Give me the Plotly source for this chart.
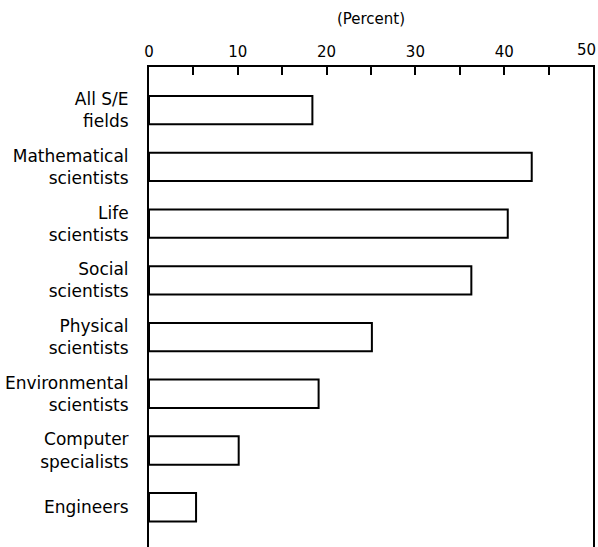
import plotly.graph_objects as go

categories = [
    "All S/E<br>fields",
    "Mathematical<br>scientists",
    "Life<br>scientists",
    "Social<br>scientists",
    "Physical<br>scientists",
    "Environmental<br>scientists",
    "Computer<br>specialists",
    "Engineers",
]
values = [18.4, 43.1, 40.4, 36.3, 25.1, 19.1, 10.1, 5.3]
tick_vals = [0, 5, 10, 15, 20, 25, 30, 35, 40, 45, 50]
tick_text = ["0", "", "10", "", "20", "", "30", "", "40", "", ""]
last_tick_value = 50
last_tick_label = "50"

fig = go.Figure(go.Bar(
    x=values,
    y=list(range(len(categories))),
    orientation="h",
    width=0.5,
    marker=dict(color="white", line=dict(color="black", width=2)),
))

fig.update_layout(
    width=598, height=547,
    margin=dict(l=149, r=5, t=67, b=0),
    paper_bgcolor="white", plot_bgcolor="white",
    showlegend=False,
    font=dict(family="DejaVu Sans", color="black", size=16),
    xaxis=dict(
        side="top", range=[0, 50], tickvals=tick_vals, ticktext=tick_text,
        ticks="inside", ticklen=8, tickwidth=2, tickcolor="black",
        showline=True, linecolor="black", linewidth=2, mirror=False,
        showgrid=False, zeroline=False, automargin=False,
        tickfont=dict(size=15),
        ticklabelstandoff=2,
        ticklabeloverflow="allow",
        title=dict(text="(Percent)", font=dict(size=15), standoff=15),
    ),
    yaxis=dict(
        range=[7.7, -0.76], tickvals=list(range(len(categories))), ticktext=categories,
        showline=True, linecolor="black", linewidth=2, mirror=True,
        showgrid=False, zeroline=False, ticks="", automargin=False,
        ticklabelstandoff=15,
        tickfont=dict(size=17),
    ),
    annotations=[dict(
        x=last_tick_value, xref="x", y=1, yref="paper",
        text=last_tick_label, showarrow=False,
        xanchor="right", yanchor="middle", xshift=4, yshift=17,
        font=dict(size=15, family="DejaVu Sans", color="black"),
        borderpad=0,
    )],
)

fig.write_html(
    "out.html",
    config={"displayModeBar": False},
    post_script="document.body.style.margin='0';document.body.style.overflow='hidden';",
)
